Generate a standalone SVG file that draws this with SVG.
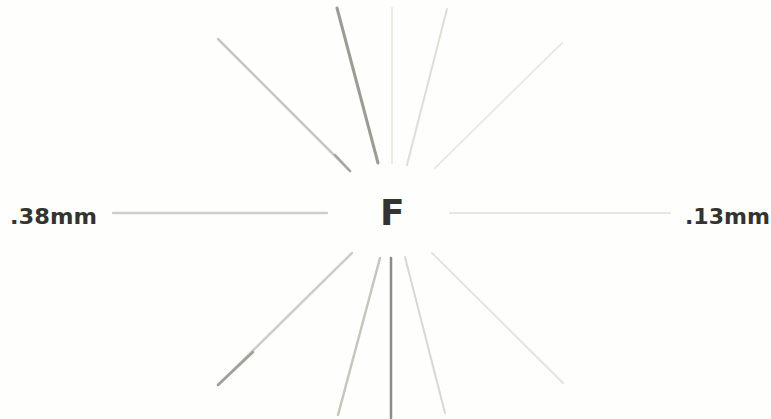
<svg xmlns="http://www.w3.org/2000/svg" width="771" height="419" viewBox="0 0 771 419">
<style>
.lbl{font-family:"DejaVu Sans","Liberation Sans",sans-serif;font-weight:bold;fill:#33332f}
line{stroke-linecap:round;fill:none}
</style>
<rect width="771" height="419" fill="#fefefd"/>
<g id="connectors">
<line x1="218" y1="39" x2="350" y2="171" stroke="#c8c8c0" stroke-width="2.5"/>
<line x1="335" y1="155" x2="350" y2="171" stroke="#a6a69e" stroke-width="2.5"/>
<line x1="337" y1="8" x2="378" y2="163" stroke="#9c9c94" stroke-width="3"/>
<line x1="392" y1="8" x2="392" y2="163" stroke="#eaeae2" stroke-width="2"/>
<line x1="447" y1="9" x2="407" y2="165" stroke="#deded6" stroke-width="2"/>
<line x1="562" y1="43" x2="435" y2="168" stroke="#eaeae4" stroke-width="2"/>
<line x1="113" y1="213" x2="327" y2="213" stroke="#cecec6" stroke-width="2.5"/>
<line x1="450" y1="213" x2="670" y2="213" stroke="#e6e6e0" stroke-width="2"/>
<line x1="352" y1="253" x2="218" y2="385" stroke="#cecec6" stroke-width="2.5"/>
<line x1="253" y1="352" x2="218" y2="385" stroke="#a0a098" stroke-width="2.5"/>
<line x1="380" y1="258" x2="338" y2="415" stroke="#c6c6be" stroke-width="2.5"/>
<line x1="391" y1="258" x2="391" y2="418" stroke="#8c8c88" stroke-width="2.5"/>
<line x1="405" y1="257" x2="445" y2="413" stroke="#d8d8d0" stroke-width="2"/>
<line x1="432" y1="253" x2="563" y2="383" stroke="#e4e4de" stroke-width="2"/>
</g>
<g id="center">
<text class="lbl" x="380" y="225" font-size="36">F</text>
</g>
<g id="left-label">
<text class="lbl" x="10" y="224" font-size="21" textLength="87" lengthAdjust="spacingAndGlyphs">.38mm</text>
</g>
<g id="right-label">
<text class="lbl" x="685" y="224" font-size="21" textLength="85" lengthAdjust="spacingAndGlyphs">.13mm</text>
</g>
</svg>
